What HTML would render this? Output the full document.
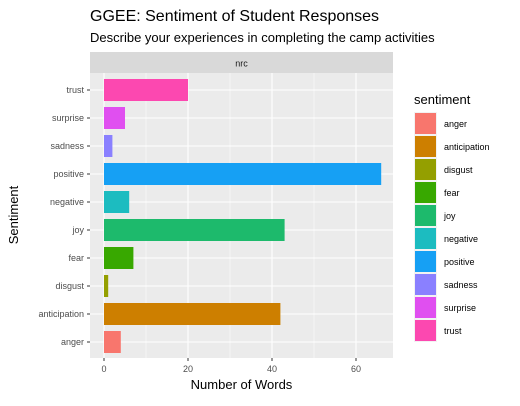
<!DOCTYPE html>
<html><head><meta charset="utf-8"><style>
body{margin:0;background:#fff;font-family:"Liberation Sans",sans-serif;}
</style></head><body>
<svg id="c" width="520" height="401" xmlns="http://www.w3.org/2000/svg">
<text x="90" y="21" font-size="16" fill="#000">GGEE: Sentiment of Student Responses</text>
<text x="90" y="42" font-size="13" fill="#000">Describe your experiences in completing the camp activities</text>
<rect x="90" y="52" width="303" height="21" fill="#d9d9d9"/>
<text x="241.5" y="66.5" font-size="9" fill="#1a1a1a" text-anchor="middle">nrc</text>
<rect x="90" y="73" width="303" height="285" fill="#ebebeb"/>
<g id="grid"></g><g id="bars"></g><g id="axes"></g>
<text x="241.5" y="389" font-size="13" text-anchor="middle">Number of Words</text>
<text transform="translate(18,215) rotate(-90)" font-size="13" text-anchor="middle">Sentiment</text>
<text x="414" y="104" font-size="13">sentiment</text>
<g id="legend"></g>
</svg>
<script>
const categories=["anger","anticipation","disgust","fear","joy","negative","positive","sadness","surprise","trust"];
const values=[4,42,1,7,43,6,66,2,5,20];
const pal=["#F8766D","#CD7F00","#949F00","#38A800","#1DBA6C","#1CBCC0","#16A0F4","#8A80FF","#E04FF0","#FC48B0"];
const xTicks=[0,20,40,60];
const NS="http://www.w3.org/2000/svg";
const x=v=>104+v*4.2;
const y=i=>342-i*28;
function mk(t,a,p){const e=document.createElementNS(NS,t);for(const k in a)e.setAttribute(k,a[k]);p.appendChild(e);return e;}
const g=document.getElementById('grid'),b=document.getElementById('bars'),ax=document.getElementById('axes'),lg=document.getElementById('legend');
[10,30,50].forEach(v=>{const l=mk('line',{x1:x(v),x2:x(v),y1:73,y2:358,stroke:'#fff','stroke-width':0.5},g);

});
xTicks.forEach(v=>{const l=mk('line',{x1:x(v),x2:x(v),y1:73,y2:358,stroke:'#fff','stroke-width':1.1},g);


const t=mk('line',{x1:x(v),x2:x(v),y1:358,y2:361,stroke:'#333'},ax);


const tx=mk('text',{x:x(v),y:372,'font-size':9,fill:'#4d4d4d','text-anchor':'middle'},ax);tx.textContent=v;

});
categories.forEach((c,i)=>{const l=mk('line',{x1:90,x2:393,y1:y(i),y2:y(i),stroke:'#fff','stroke-width':1.1},g);


const r=mk('rect',{x:x(0),y:y(i)-11,width:x(values[i])-x(0),height:22,fill:pal[i]},b);


const t=mk('line',{x1:87,x2:90,y1:y(i),y2:y(i),stroke:'#333'},ax);


const tx=mk('text',{x:84,y:y(i)+3,'font-size':9,fill:'#4d4d4d','text-anchor':'end'},ax);tx.textContent=c;


const ly=112+i*23;
const lb=mk('rect',{x:414,y:ly,width:23,height:23,fill:'#f2f2f2'},lg);


const lr=mk('rect',{x:415,y:ly+1,width:21,height:21,fill:pal[i]},lg);


const lt=mk('text',{x:444,y:ly+15,'font-size':9,fill:'#000'},lg);lt.textContent=c;

});
</script>
</body></html>
